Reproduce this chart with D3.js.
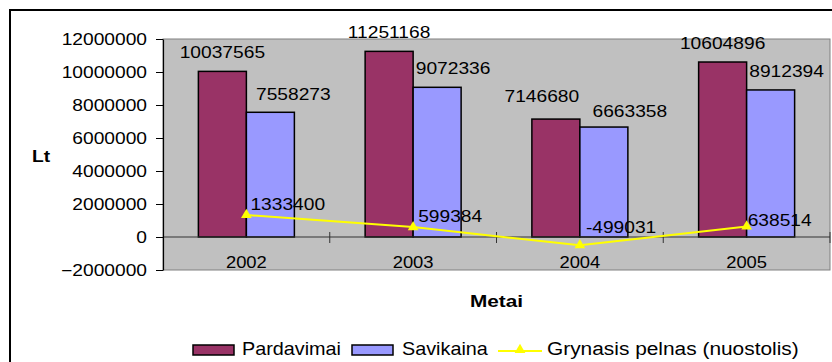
<!DOCTYPE html>
<html>
<head>
<meta charset="utf-8">
<script src="https://cdn.jsdelivr.net/npm/d3@7"></script>
<style>
  body { margin: 0; background: #fff; }
  svg { display: block; font-family: "Liberation Sans", Arial, sans-serif; }
</style>
</head>
<body>
<svg id="chart" width="832" height="362"></svg>
<script>
// Sales, cost and net profit by year (Lt)
const years = ["2002", "2003", "2004", "2005"];
const pardavimai = [10037565, 11251168, 7146680, 10604896];
const savikaina = [7558273, 9072336, 6663358, 8912394];
const pelnas = [1333400, 599384, -499031, 638514];
const yTicks = [-2000000, 0, 2000000, 4000000, 6000000, 8000000, 10000000, 12000000];
const seriesNames = ["Pardavimai", "Savikaina", "Grynasis pelnas (nuostolis)"];

const colors = { pardavimai: "#993366", savikaina: "#9999FF", pelnas: "#FFFF00" };

// hand-placed data label offsets [dx, dy] from each label's default spot
const nudgeP = [[0, -13], [0, -13], [-14, -17], [0, -13]];
const nudgeS = [[23, -12], [16, -13], [26, -10], [16, -13]];
const nudgeL = [[4, -5], [5, -5], [6, -12], [1, 0]];

const svg = d3.select("#chart");
const plot = { left: 163, right: 830, top: 39, bottom: 270 };

const y = d3.scaleLinear().domain([-2000000, 12000000]).range([plot.bottom, plot.top]);
const x0 = d3.scaleBand().domain(years).range([plot.left, plot.right]);
const x1 = d3.scaleBand().domain(["p", "s"]).range([0, x0.bandwidth()]).paddingOuter(0.737);

// text drawn slightly wide, like the original chart font
function wideText(parent, x, yy, str, o = {}) {
  const g = parent.append("g")
    .attr("transform", `translate(${x},${yy}) scale(${o.sx || 1.2},1)`);
  g.append("text")
    .attr("text-anchor", o.anchor || "middle")
    .style("font-size", (o.size || 16) + "px")
    .style("font-weight", o.weight || "normal")
    .attr("fill", "#000")
    .text(str);
  return g;
}

// outer chart frame
svg.append("path")
  .attr("d", "M10,362 V10 H832")
  .attr("fill", "none").attr("stroke", "#000").attr("stroke-width", 2);

// plot area
svg.append("rect")
  .attr("x", plot.left).attr("y", plot.top)
  .attr("width", plot.right - plot.left).attr("height", plot.bottom - plot.top)
  .attr("fill", "#C0C0C0").attr("stroke", "#808080").attr("stroke-width", 1);

// bars
const bars = svg.append("g");
years.forEach((yr, i) => {
  [["p", pardavimai[i], colors.pardavimai], ["s", savikaina[i], colors.savikaina]].forEach(([k, v, c]) => {
    bars.append("rect")
      .attr("x", x0(yr) + x1(k))
      .attr("y", y(Math.max(0, v)))
      .attr("width", x1.bandwidth())
      .attr("height", Math.abs(y(v) - y(0)))
      .attr("fill", c).attr("stroke", "#000").attr("stroke-width", 1.5);
  });
});

// category axis along zero
const z = y(0);
svg.append("line")
  .attr("x1", plot.left).attr("x2", plot.right).attr("y1", z).attr("y2", z)
  .attr("stroke", "#333").attr("stroke-width", 1.2);
const bounds = years.map(d => x0(d)).concat([x0.range()[1]]).slice(1);
svg.append("g").selectAll("line").data(bounds).join("line")
  .attr("x1", d => d).attr("x2", d => d)
  .attr("y1", z - 5).attr("y2", z + 6)
  .attr("stroke", "#333").attr("stroke-width", 1);
years.forEach(yr => wideText(svg, x0(yr) + x0.bandwidth() / 2, 268, yr, { sx: 1.15 }));

// value axis
const yAxis = svg.append("g")
  .attr("transform", `translate(${plot.left},0)`)
  .call(d3.axisLeft(y).tickValues(yTicks).tickSize(7).tickSizeOuter(0).tickFormat(d3.format("d")));
yAxis.select(".domain").attr("stroke", "#000").attr("stroke-width", 1.2);
yAxis.selectAll(".tick line").attr("stroke", "#000");
yAxis.selectAll(".tick text")
  .attr("x", -16 / 1.2).attr("dy", null).attr("y", 5.5)
  .attr("transform", "scale(1.2,1)")
  .style("font-size", "16px").style("font-family", "Liberation Sans, Arial, sans-serif")
  .attr("fill", "#000");

// axis titles
wideText(svg, 32, 162, "Lt", { anchor: "start", weight: "bold", sx: 1.2 });
wideText(svg, (plot.left + plot.right) / 2, 307, "Metai", { weight: "bold", sx: 1.3 });

// profit line
const cx = i => x0(years[i]) + x0.bandwidth() / 2;
svg.append("path")
  .datum(pelnas)
  .attr("d", d3.line().x((d, i) => cx(i)).y(d => y(d)))
  .attr("fill", "none").attr("stroke", colors.pelnas).attr("stroke-width", 2);
const tri = d3.symbol(d3.symbolTriangle).size(50);
svg.append("g").selectAll("path").data(pelnas).join("path")
  .attr("d", tri)
  .attr("transform", (d, i) => `translate(${cx(i)},${y(d)})`)
  .attr("fill", colors.pelnas);

// data labels
const labels = svg.append("g");
years.forEach((yr, i) => {
  const pc = x0(yr) + x1("p") + x1.bandwidth() / 2;
  const sc = x0(yr) + x1("s") + x1.bandwidth() / 2;
  wideText(labels, pc + nudgeP[i][0], y(pardavimai[i]) + nudgeP[i][1], String(pardavimai[i]));
  wideText(labels, sc + nudgeS[i][0], y(savikaina[i]) + nudgeS[i][1], String(savikaina[i]));
  wideText(labels, cx(i) + nudgeL[i][0], y(pelnas[i]) + nudgeL[i][1], String(pelnas[i]), { anchor: "start" });
});

// legend
const legend = svg.append("g");
const ly = 345;
legend.append("rect").attr("x", 193).attr("y", ly).attr("width", 41).attr("height", 10)
  .attr("fill", colors.pardavimai).attr("stroke", "#000").attr("stroke-width", 1.5);
wideText(legend, 242, 355, seriesNames[0], { anchor: "start", size: 18, sx: 1.1 });
legend.append("rect").attr("x", 352).attr("y", ly).attr("width", 41).attr("height", 10)
  .attr("fill", colors.savikaina).attr("stroke", "#000").attr("stroke-width", 1.5);
wideText(legend, 402, 355, seriesNames[1], { anchor: "start", size: 18, sx: 1.1 });
legend.append("line").attr("x1", 498).attr("x2", 542).attr("y1", 351).attr("y2", 351)
  .attr("stroke", colors.pelnas).attr("stroke-width", 2);
legend.append("path").attr("d", tri).attr("transform", "translate(520,350)").attr("fill", colors.pelnas);
wideText(legend, 547, 355, seriesNames[2], { anchor: "start", size: 18, sx: 1.16 });
</script>
</body>
</html>
